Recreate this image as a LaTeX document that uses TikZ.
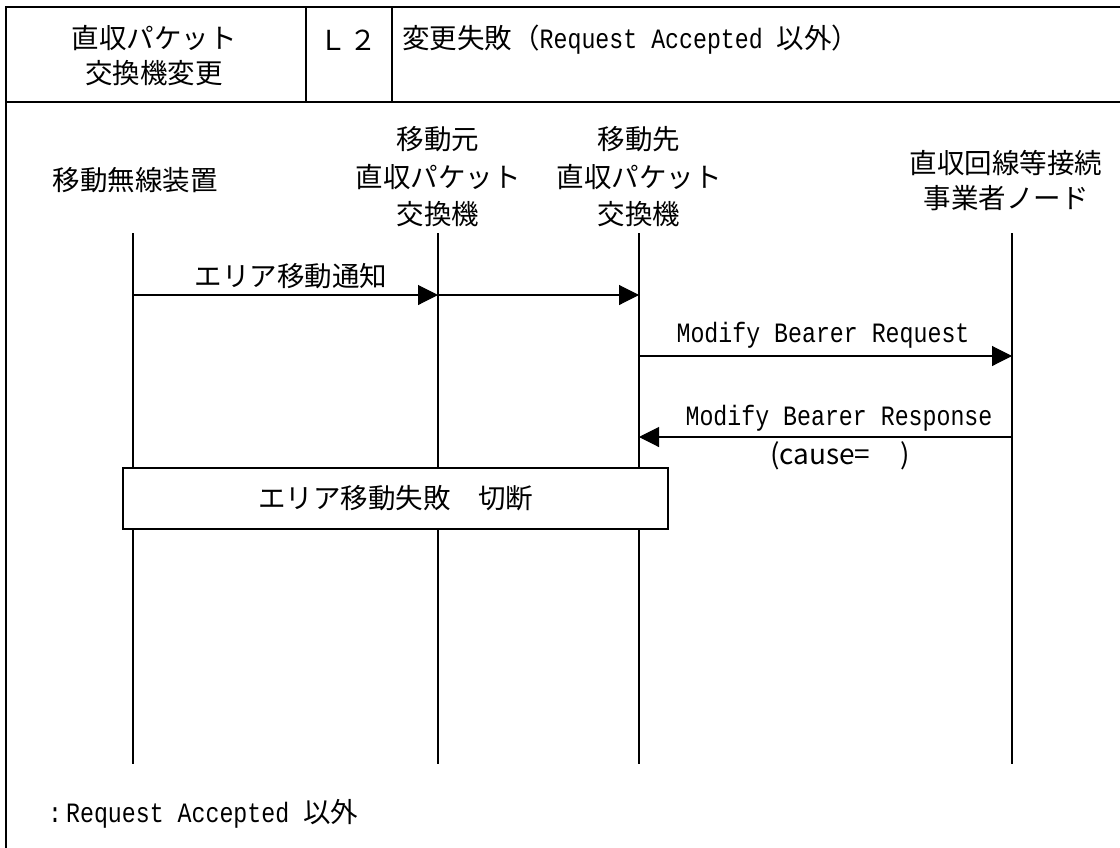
\documentclass[tikz,border=0pt]{standalone}
\usepackage{fontspec}
\setmainfont{Noto Sans CJK JP}
\newfontfamily\monofont[FakeStretch=0.83]{Liberation Mono}
\usetikzlibrary{arrows.meta}
\begin{document}
\begin{tikzpicture}[x=1pt,y=-1pt,
  frame/.style={line width=2.5pt},
  life/.style={line width=1.1pt},
  msg/.style={line width=1.1pt,-{Triangle[length=20pt,width=20pt]}},
  jp/.style={font=\fontsize{27.5}{37.5}\selectfont,inner sep=0pt,align=center},
  lat/.style={font=\fontsize{28}{34}\monofont,inner sep=0pt},
  boxst/.style={draw,line width=1.1pt,fill=white,minimum width=545pt,minimum height=61pt,inner sep=0pt}]
\useasboundingbox (0,0) rectangle (1120,847);
% frame
\draw[frame] (6,848) -- (6,7) -- (1121,7);
\draw[frame] (6,102) -- (1121,102);
\draw[frame] (306,7) -- (306,102);
\draw[frame] (392,7) -- (392,102);
% header
\node[jp,font=\fontsize{27.5}{35}\selectfont] (h1) at (154,56) {直収パケット\\交換機変更};
\node[jp] (h2) at (348,40) {Ｌ\hspace{3pt}２};
\node[jp,anchor=west] (h3) at (402,40) {変更失敗（{\fontsize{28}{34}\monofont Request Accepted }以外）};
% lifeline labels
\node[jp] (l1) at (135,180) {移動無線装置};
\node[jp] (l2) at (438,177) {移動元\\直収パケット\\交換機};
\node[jp] (l3) at (639,177) {移動先\\直収パケット\\交換機};
\node[jp,font=\fontsize{27.5}{35}\selectfont] (l4) at (1006,181) {直収回線等接続\\事業者ノード};
% lifelines
\coordinate (t1) at (133,233); \coordinate (b1) at (133,764);
\coordinate (t2) at (438,233); \coordinate (b2) at (438,764);
\coordinate (t3) at (639,233); \coordinate (b3) at (639,764);
\coordinate (t4) at (1012,233); \coordinate (b4) at (1012,764);
\draw[life] (t1) -- (b1);
\draw[life] (t2) -- (b2);
\draw[life] (t3) -- (b3);
\draw[life] (t4) -- (b4);
% messages
\coordinate (m1a) at (133,295); \coordinate (m1b) at (438,295);
\coordinate (m2b) at (639,295);
\coordinate (m3a) at (639,356); \coordinate (m3b) at (1012,356);
\coordinate (m4a) at (1012,437); \coordinate (m4b) at (639,437);
\draw[msg] (m1a) -- (m1b);
\draw[msg] (m1b) -- (m2b);
\draw[msg] (m3a) -- (m3b);
\draw[msg] (m4a) -- (m4b);
\node[jp] (n1) at (291,276) {エリア移動通知};
\node[lat] (n2) at (823,335) {Modify Bearer Request};
\node[lat] (n3) at (839,418) {Modify Bearer Response};
\node[jp,font=\fontsize{28}{32}\selectfont] (n4) at (840,456) {(cause=\hspace{30pt})};
% box
\node[boxst,jp] (bx) at (395.5,498.5) {エリア移動失敗　切断};
% footnote
\node[lat,anchor=west] (fn) at (48,814) {:\hspace{4pt}Request Accepted {\fontsize{27.5}{32}\rmfamily 以外}};
\end{tikzpicture}
\end{document}
